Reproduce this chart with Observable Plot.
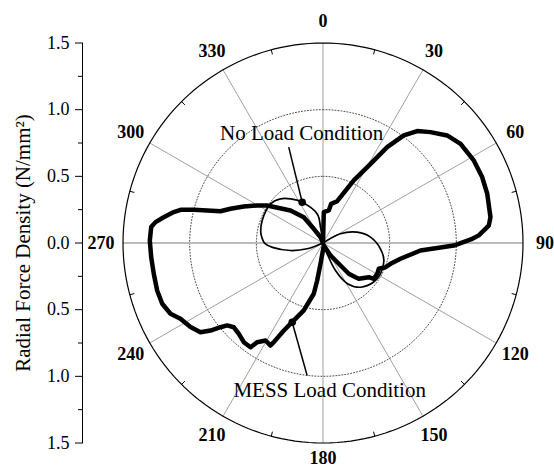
<!DOCTYPE html>
<html>
<head>
<meta charset="utf-8">
<script src="https://cdn.jsdelivr.net/npm/d3@7"></script>
<script src="https://cdn.jsdelivr.net/npm/@observablehq/plot@0.6"></script>
<style>
  html, body { margin: 0; padding: 0; background: #fff; }
  #chart { width: 554px; height: 469px; }
</style>
</head>
<body>
<div id="chart"></div>
<script>
// ---- Data (angle in degrees clockwise from top, r in N/mm²) ----
const angleTicks = [0, 30, 60, 90, 120, 150, 180, 210, 240, 270, 300, 330];
const angleMinorTicks = [15, 45, 75, 105, 135, 165, 195, 225, 255, 285, 315, 345];
const radialTicks = [-1.5, -1.0, -0.5, 0, 0.5, 1.0, 1.5];
const radialMinorTicks = [-1.25, -0.75, -0.25, 0.25, 0.75, 1.25];
const gridRadii = [0.5, 1.0];
const outerRadius = 1.5;
const axisTitle = "Radial Force Density (N/mm²)";

const messAngle = [0, 1.5, 10.1, 11.8, 18.8, 26.2, 31.0, 33.8, 36.9, 40.1, 44.1, 49.1, 54.2, 61.3, 67.5, 73.3, 81.2, 84.0, 87.2, 88.4, 91.1, 94.4, 101.5, 107.1, 111.2, 114.8, 119.6, 125.2, 126.7, 135, 136.5, 140, 142.1, 149, 162, 186.9, 188.8, 190.3, 195.9, 201.3, 204.1, 206.4, 207.1, 210.5, 213.6, 214.8, 218.6, 222.8, 226.6, 229.3, 230.6, 232.1, 233.9, 237.6, 242, 245.1, 249.3, 254, 259.7, 265.3, 270.8, 275.3, 277.1, 279.2, 281.7, 283.1, 284.4, 287.2, 290.3, 294.7, 299.7, 303.9, 315, 323.3, 327, 337, 360];
const messR = [0, 0.231, 0.248, 0.30, 0.331, 0.523, 0.693, 0.865, 1.009, 1.097, 1.158, 1.232, 1.272, 1.289, 1.292, 1.286, 1.271, 1.25, 1.17, 1.12, 0.981, 0.733, 0.593, 0.530, 0.503, 0.461, 0.468, 0.466, 0.429, 0.38, 0.354, 0.301, 0.214, 0.109, 0.02, 0.157, 0.285, 0.387, 0.526, 0.637, 0.719, 0.830, 0.864, 0.849, 0.893, 0.952, 0.952, 0.929, 0.920, 0.948, 0.995, 1.069, 1.137, 1.177, 1.211, 1.261, 1.289, 1.294, 1.290, 1.293, 1.299, 1.294, 1.266, 1.210, 1.143, 1.097, 1.0, 0.805, 0.740, 0.654, 0.568, 0.504, 0.345, 0.241, 0.127, 0.047, 0];

const noLoadAngle = [55, 62, 72.5, 83, 95.8, 106, 118, 127.6, 139.7, 149, 155.6, 159, 165, 245, 250, 257, 265, 270, 274.5, 279.5, 290, 307, 316, 323.7, 333, 349, 351, 360];
const noLoadR = [0, 0.148, 0.269, 0.359, 0.433, 0.475, 0.489, 0.48, 0.435, 0.356, 0.227, 0.087, 0, 0, 0.126, 0.25, 0.38, 0.439, 0.458, 0.473, 0.486, 0.49, 0.46, 0.41, 0.343, 0.22, 0.12, 0];

// annotations (Cartesian, data units)
const annotLabels = ["No Load Condition", "MESS Load Condition"];
const annotLabelX = [-0.16, 0.05];
const annotLabelY = [0.82, -1.106];
const annotMarkerX = [-0.156, -0.231];
const annotMarkerY = [0.306, -0.594];
const annotLeaderX = [-0.257, -0.119];
const annotLeaderY = [0.719, -0.994];

// ---- helpers ----
const rad = a => a * Math.PI / 180;
const px = (a, r) => r * Math.sin(rad(a));
const py = (a, r) => r * Math.cos(rad(a));
const labelR = a => (a === 180 ? 1.615 : 1.665);

const mess = messAngle.map((a, i) => ({a, r: messR[i]}));
const noLoad = noLoadAngle.map((a, i) => ({a, r: noLoadR[i]}));
const circleAngles = d3.range(0, 361, 2);
const gridCircles = gridRadii.flatMap(r => circleAngles.map(a => ({a, r})));
const outerCircle = circleAngles.map(a => ({a, r: outerRadius}));
const annots = annotLabels.map((t, i) => ({
  t, lx: annotLabelX[i], ly: annotLabelY[i], mx: annotMarkerX[i], my: annotMarkerY[i],
  ex: annotLeaderX[i], ey: annotLeaderY[i]
}));

const chart = Plot.plot({
  width: 554,
  height: 469,
  marginLeft: 82,
  marginRight: 0,
  marginTop: 42.5,
  marginBottom: 26.5,
  style: {fontFamily: "'Liberation Serif', 'Times New Roman', serif", fontSize: "18px", background: "#fff", color: "#000"},
  x: {domain: [-1.5, 1.5], range: [122.5, 522.5], axis: null},
  y: {domain: [-1.5, 1.5]},
  marks: [
    Plot.frame({anchor: "left", stroke: "#000", strokeWidth: 1}),
    Plot.axisY(radialTicks, {tickSize: 7, tickPadding: 6, tickFormat: d => Math.abs(d).toFixed(1), label: null, fontSize: 18}),
    Plot.axisY(radialMinorTicks, {tickSize: 4, tickFormat: () => "", label: null}),
    Plot.text([axisTitle], {frameAnchor: "left", dx: -59, rotate: -90, textAnchor: "middle", lineAnchor: "middle", fontSize: 21, text: d => d}),
    // grid
    Plot.line(gridCircles, {x: d => px(d.a, d.r), y: d => py(d.a, d.r), z: d => d.r, stroke: "#333", strokeWidth: 0.9, strokeDasharray: "1,2"}),
    Plot.link(angleTicks.filter(a => a % 180 !== 90), {x1: () => 0, y1: () => 0, x2: a => px(a, outerRadius), y2: a => py(a, outerRadius), stroke: "#888", strokeWidth: 0.8}),
    Plot.link(angleTicks.filter(a => a % 180 === 90), {x1: () => 0, y1: () => 0, x2: a => px(a, outerRadius), y2: a => py(a, outerRadius), stroke: "#bbb", strokeWidth: 1.8}),
    Plot.line(outerCircle, {x: d => px(d.a, d.r), y: d => py(d.a, d.r), stroke: "#000", strokeWidth: 1.2}),
    Plot.link(angleMinorTicks, {x1: a => px(a, outerRadius), y1: a => py(a, outerRadius), x2: a => px(a, outerRadius - 0.035), y2: a => py(a, outerRadius - 0.035), stroke: "#000", strokeWidth: 1}),
    // curves
    Plot.line(noLoad, {x: d => px(d.a, d.r), y: d => py(d.a, d.r), stroke: "#000", strokeWidth: 1.7, curve: "catmull-rom"}),
    Plot.line(mess, {x: d => px(d.a, d.r), y: d => py(d.a, d.r), stroke: "#000", strokeWidth: 4.5, strokeLinejoin: "round", curve: "linear"}),
    // annotations
    Plot.link(annots, {x1: "mx", y1: "my", x2: "ex", y2: "ey", stroke: "#000", strokeWidth: 1.5}),
    Plot.dot(annots, {x: "mx", y: "my", r: 3.8, fill: "#000", stroke: null}),
    Plot.text(annots, {x: "lx", y: "ly", text: "t", fontSize: 21, textAnchor: "middle", lineAnchor: "middle"}),
    // angle labels
    Plot.text(angleTicks, {x: a => px(a, labelR(a)), y: a => py(a, labelR(a)), text: a => String(a), fontWeight: "bold", fontSize: 18, textAnchor: "middle", lineAnchor: "middle"})
  ]
});
document.getElementById("chart").appendChild(chart);
</script>
</body>
</html>
